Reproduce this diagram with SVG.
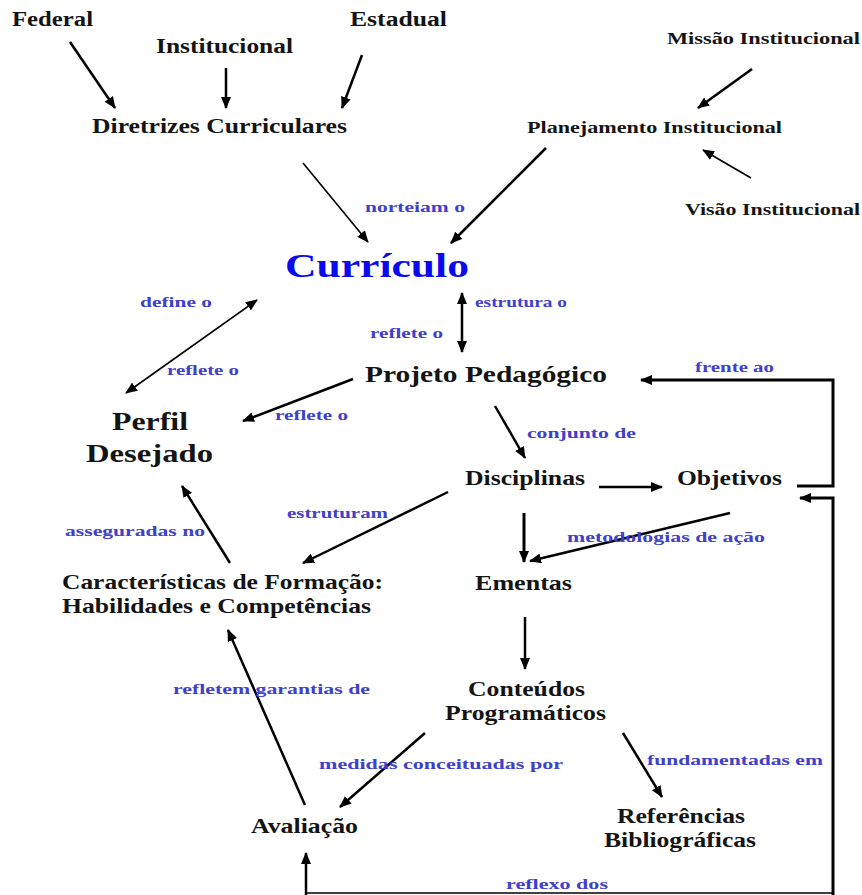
<svg xmlns="http://www.w3.org/2000/svg" width="862" height="895" viewBox="0 0 862 895">
  <style>
    text { font-family: "Liberation Serif", "DejaVu Serif", "Times New Roman", serif; font-weight: bold; }
    .node { fill: #141414; }
    .lbl { font-size: 15px; fill: #4040cc; }
    .edge { fill: none; stroke: #000; stroke-width: 2.5; }
    .thin { stroke-width: 1.6; }
    .thick { stroke-width: 3; }
  </style>
  <defs>
    <marker id="ah" viewBox="0 0 12 10" refX="11" refY="5" markerWidth="12" markerHeight="10" markerUnits="userSpaceOnUse" orient="auto-start-reverse">
      <path d="M0,0 L12,5 L0,10 z" fill="#000"/>
    </marker>
  </defs>
  <rect width="862" height="895" fill="#fff"/>

  <g id="connectors">
    <!-- sources into Diretrizes Curriculares -->
    <line class="edge" x1="70" y1="42" x2="115" y2="108" marker-end="url(#ah)"/>
    <line class="edge" x1="226" y1="68" x2="226" y2="108" marker-end="url(#ah)"/>
    <line class="edge" x1="362" y1="55" x2="342" y2="108" marker-end="url(#ah)"/>
    <!-- mission / vision into planning -->
    <line class="edge" x1="752" y1="69" x2="698" y2="108" marker-end="url(#ah)"/>
    <line class="edge thin" x1="751" y1="178" x2="703" y2="150" marker-end="url(#ah)"/>
    <!-- into Currículo -->
    <line class="edge thin" x1="303" y1="163" x2="368" y2="242" marker-end="url(#ah)"/>
    <line class="edge" x1="546" y1="148" x2="451" y2="243" marker-end="url(#ah)"/>
    <!-- Currículo <-> Perfil Desejado -->
    <line class="edge thin" x1="126" y1="393" x2="257" y2="300" marker-start="url(#ah)" marker-end="url(#ah)"/>
    <!-- Currículo <-> Projeto Pedagógico -->
    <line class="edge" x1="462" y1="293" x2="462" y2="352" marker-start="url(#ah)" marker-end="url(#ah)"/>
    <!-- Projeto -> Perfil -->
    <line class="edge" x1="353" y1="379" x2="243" y2="421" marker-end="url(#ah)"/>
    <!-- Projeto -> Disciplinas -->
    <line class="edge" x1="495" y1="406" x2="525" y2="458" marker-end="url(#ah)"/>
    <!-- Disciplinas -> Objetivos -->
    <line class="edge" x1="599" y1="487" x2="662" y2="487" marker-end="url(#ah)"/>
    <!-- Objetivos -> Projeto (frente ao) -->
    <polyline class="edge thick" points="797,486 833,486 833,380 641,380" marker-end="url(#ah)"/>
    <!-- Disciplinas -> Características -->
    <line class="edge" x1="448" y1="492" x2="303" y2="563" marker-end="url(#ah)"/>
    <!-- Características -> Perfil -->
    <line class="edge" x1="230" y1="563" x2="182" y2="486" marker-end="url(#ah)"/>
    <!-- Disciplinas -> Ementas -->
    <line class="edge thick" x1="524" y1="513" x2="524" y2="562" marker-end="url(#ah)"/>
    <!-- Objetivos -> Ementas -->
    <line class="edge" x1="730" y1="513" x2="530" y2="561" marker-end="url(#ah)"/>
    <!-- Ementas -> Conteúdos -->
    <line class="edge" x1="525" y1="617" x2="525" y2="669" marker-end="url(#ah)"/>
    <!-- Conteúdos -> Avaliação -->
    <line class="edge" x1="425" y1="733" x2="340" y2="807" marker-end="url(#ah)"/>
    <!-- Conteúdos -> Referências -->
    <line class="edge" x1="623" y1="733" x2="662" y2="797" marker-end="url(#ah)"/>
    <!-- Avaliação -> Características -->
    <line class="edge" x1="305" y1="805" x2="228" y2="630" marker-end="url(#ah)"/>
    <!-- feedback loop along the bottom -->
    <line class="edge" x1="306" y1="895" x2="306" y2="853" marker-end="url(#ah)"/>
    <line class="edge thin" x1="306" y1="893" x2="833" y2="893" stroke="#333"/>
    <polyline class="edge thick" points="833,895 833,498 800,498" marker-end="url(#ah)"/>
  </g>

  <g id="federal"><text class="node" x="12" y="26" font-size="20" textLength="81" lengthAdjust="spacingAndGlyphs">Federal</text></g>
  <g id="institucional"><text class="node" x="156" y="53" font-size="20" textLength="137" lengthAdjust="spacingAndGlyphs">Institucional</text></g>
  <g id="estadual"><text class="node" x="350" y="26" font-size="20" textLength="97" lengthAdjust="spacingAndGlyphs">Estadual</text></g>
  <g id="diretrizes"><text class="node" x="92" y="133" font-size="21" textLength="255" lengthAdjust="spacingAndGlyphs">Diretrizes Curriculares</text></g>
  <g id="missao"><text class="node" x="667" y="44" font-size="16" textLength="193" lengthAdjust="spacingAndGlyphs">Missão Institucional</text></g>
  <g id="planejamento"><text class="node" x="527" y="133" font-size="16" textLength="255" lengthAdjust="spacingAndGlyphs">Planejamento Institucional</text></g>
  <g id="visao"><text class="node" x="685" y="215" font-size="16" textLength="175" lengthAdjust="spacingAndGlyphs">Visão Institucional</text></g>
  <g id="curriculo"><text x="285" y="277" font-size="34" fill="#0a0aee" textLength="184" lengthAdjust="spacingAndGlyphs">Currículo</text></g>
  <g id="projeto"><text class="node" x="365" y="382" font-size="24" textLength="242" lengthAdjust="spacingAndGlyphs">Projeto Pedagógico</text></g>
  <g id="perfil">
    <text class="node" x="112" y="430" font-size="26" textLength="76" lengthAdjust="spacingAndGlyphs">Perfil</text>
    <text class="node" x="86" y="462" font-size="26" textLength="127" lengthAdjust="spacingAndGlyphs">Desejado</text>
  </g>
  <g id="disciplinas"><text class="node" x="465" y="485" font-size="20" textLength="120" lengthAdjust="spacingAndGlyphs">Disciplinas</text></g>
  <g id="objetivos"><text class="node" x="677" y="485" font-size="20" textLength="105" lengthAdjust="spacingAndGlyphs">Objetivos</text></g>
  <g id="caracteristicas">
    <text class="node" x="62" y="589" font-size="21" textLength="321" lengthAdjust="spacingAndGlyphs">Características de Formação:</text>
    <text class="node" x="62" y="613" font-size="21" textLength="309" lengthAdjust="spacingAndGlyphs">Habilidades e Competências</text>
  </g>
  <g id="ementas"><text class="node" x="475" y="590" font-size="21" textLength="97" lengthAdjust="spacingAndGlyphs">Ementas</text></g>
  <g id="conteudos">
    <text class="node" x="468" y="696" font-size="21" textLength="117" lengthAdjust="spacingAndGlyphs">Conteúdos</text>
    <text class="node" x="445" y="720" font-size="21" textLength="161" lengthAdjust="spacingAndGlyphs">Programáticos</text>
  </g>
  <g id="referencias">
    <text class="node" x="617" y="823" font-size="21" textLength="128" lengthAdjust="spacingAndGlyphs">Referências</text>
    <text class="node" x="604" y="847" font-size="21" textLength="152" lengthAdjust="spacingAndGlyphs">Bibliográficas</text>
  </g>
  <g id="avaliacao"><text class="node" x="251" y="833" font-size="21" textLength="107" lengthAdjust="spacingAndGlyphs">Avaliação</text></g>

  <g id="labels">
    <text class="lbl" x="365" y="212" fill="#2a2ae6" textLength="100" lengthAdjust="spacingAndGlyphs">norteiam o</text>
    <text class="lbl" x="140" y="307" textLength="72" lengthAdjust="spacingAndGlyphs">define o</text>
    <text class="lbl" x="475" y="307" font-weight="normal" textLength="92" lengthAdjust="spacingAndGlyphs">estrutura o</text>
    <text class="lbl" x="370" y="338" font-weight="normal" textLength="73" lengthAdjust="spacingAndGlyphs">reflete o</text>
    <text class="lbl" x="167" y="375" textLength="72" lengthAdjust="spacingAndGlyphs">reflete o</text>
    <text class="lbl" x="275" y="420" textLength="73" lengthAdjust="spacingAndGlyphs">reflete o</text>
    <text class="lbl" x="695" y="372" textLength="79" lengthAdjust="spacingAndGlyphs">frente ao</text>
    <text class="lbl" x="527" y="438" textLength="109" lengthAdjust="spacingAndGlyphs">conjunto de</text>
    <text class="lbl" x="287" y="518" textLength="101" lengthAdjust="spacingAndGlyphs">estruturam</text>
    <text class="lbl" x="65" y="536" textLength="140" lengthAdjust="spacingAndGlyphs">asseguradas no</text>
    <text class="lbl" x="567" y="542" textLength="198" lengthAdjust="spacingAndGlyphs">metodologias de ação</text>
    <text class="lbl" x="173" y="694" textLength="197" lengthAdjust="spacingAndGlyphs">refletem garantias de</text>
    <text class="lbl" x="319" y="769" textLength="244" lengthAdjust="spacingAndGlyphs">medidas conceituadas por</text>
    <text class="lbl" x="647" y="765" textLength="176" lengthAdjust="spacingAndGlyphs">fundamentadas em</text>
    <text class="lbl" x="506" y="889" textLength="102" lengthAdjust="spacingAndGlyphs">reflexo dos</text>
  </g>
</svg>
